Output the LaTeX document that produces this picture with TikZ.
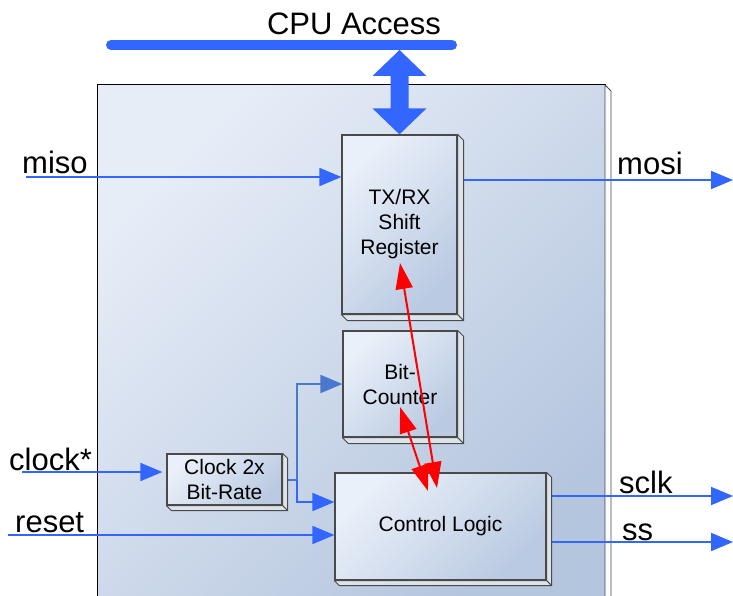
\documentclass[tikz,border=0pt]{standalone}
\usepackage{fontspec}
\setmainfont{Liberation Sans}
\usetikzlibrary{arrows.meta,calc}
\pgfdeclarelayer{bg}
\pgfdeclarelayer{conn}
\pgfsetlayers{bg,conn,main}
\definecolor{brightblue}{HTML}{3366FF}
\definecolor{steelblue}{HTML}{4A78CC}
\definecolor{boxlight}{HTML}{EAF0F9}
\definecolor{boxdark}{HTML}{BACAE2}
\definecolor{biglight}{HTML}{E7EDF7}
\definecolor{bigdark}{HTML}{B4C5DE}
\definecolor{boxborder}{HTML}{4A4A4A}
\definecolor{sidecol}{HTML}{DDE3EB}
\definecolor{redline}{HTML}{FF0000}
\tikzset{
  blockbox/.style={draw=boxborder, line width=1.2pt, top color=boxlight, bottom color=boxdark,
    shading angle=45, inner sep=0pt, align=center, font=\fontsize{21}{25}\selectfont},
  sideface/.style={fill=sidecol, draw=boxborder, line width=0.9pt, line join=round},
  outlabel/.style={font=\fontsize{31}{36}\selectfont, inner sep=0pt, anchor=base west},
  bluearrow/.style={draw=brightblue, line width=1.8pt, -{Triangle[length=22pt,width=18pt]}},
  steelarrow/.style={draw=steelblue, line width=1.8pt, -{Triangle[length=22pt,width=18pt]}},
  redarrow/.style={draw=redline, line width=2pt, {Triangle[length=26pt,width=17pt]}-{Triangle[length=26pt,width=17pt]}}
}
\newcommand{\sidefaces}[2]{%
  \filldraw[sideface] (#1.north east) -- ++(#2,#2) -- ($(#1.south east)+(#2,#2)$) -- (#1.south east) -- cycle;
  \filldraw[sideface] (#1.south west) -- ++(#2,#2) -- ($(#1.south east)+(#2,#2)$) -- (#1.south east) -- cycle;
}
\begin{document}
\begin{tikzpicture}[x=1pt,y=-1pt]
\useasboundingbox (0,0) rectangle (733,596);
\clip (0,0) rectangle (733,596);

% main enclosure
\begin{pgfonlayer}{bg}
  \fill[white] (0,0) rectangle (733,596);
  \shade[top color=biglight, bottom color=bigdark, shading angle=45, draw=black, line width=1pt]
    (97,85) rectangle (605,610);
  \filldraw[sideface, fill=white!85!sidecol] (605,85) -- (611,91) -- (611,610) -- (605,610) -- cycle;
\end{pgfonlayer}

% CPU bus
\draw[brightblue, line width=10pt, line cap=round] (111,45) -- (452,45);
\node[font=\fontsize{31}{36}\selectfont, inner sep=0pt, anchor=base] (cpu) at (354,35) {CPU Access};
\coordinate (busA) at (399.5,50);

% blocks
\node[blockbox, minimum width=115pt, minimum height=179pt] (tx) at (399.5,224.5)
  {\raisebox{-6pt}{\parbox{115pt}{\centering TX/RX\\Shift\\Register}}};
\sidefaces{tx}{6}
\node[blockbox, minimum width=114pt, minimum height=106pt] (bc) at (400,384) {Bit-\\Counter};
\sidefaces{bc}{6}
\node[blockbox, minimum width=115pt, minimum height=51pt] (clk) at (224.5,479.5) {Clock 2x\\Bit-Rate};
\sidefaces{clk}{5}
\node[blockbox, minimum width=211pt, minimum height=107pt] (ctrl) at (440.5,526.5) {Control Logic};
\sidefaces{ctrl}{5}

% CPU access double arrow
\fill[brightblue] (busA) -- ++(27,26) -- ++(-18,0) -- ($(tx.north)+(9,-26)$) -- ++(18,0)
  -- (tx.north) -- ($(tx.north)+(-27,-26)$) -- ++(18,0) -- ($(busA)+(-9,26)$) -- ++(-18,0) -- cycle;

% labels
\node[outlabel] (lmiso) at (22,174) {miso};
\node[outlabel] (lmosi) at (617,175) {mosi};
\node[outlabel] (lclk) at (9,470) {clock*};
\node[outlabel] (lrst) at (15,532) {reset};
\node[outlabel] (lsclk) at (619,493) {sclk};
\node[outlabel] (lss) at (622,540) {ss};

% connector endpoints
\coordinate (misoS) at (26,177);
\coordinate (mosiE) at (733,180);
\coordinate (clkS) at (22,472);
\coordinate (rstS) at (8,535);
\coordinate (sclkE) at (733,496);
\coordinate (ssE) at (733,542);
\coordinate (j) at (297,480);
\coordinate (j2) at (297,502);

\begin{pgfonlayer}{conn}
  \draw[bluearrow] (misoS) -- (misoS -| tx.west);
  \draw[bluearrow] (misoS -| tx.east) ++(0,3) -- (mosiE);
  \draw[bluearrow, shorten >=4pt] (clkS) -- (clkS -| clk.west);
  \draw[bluearrow] (rstS) -- (rstS -| ctrl.west);
  \draw[bluearrow] (sclkE -| ctrl.east) -- (sclkE);
  \draw[bluearrow] (ssE -| ctrl.east) -- (ssE);
  \draw[steelblue, line width=1.8pt] (clk.east |- j) -- (j);
  \draw[steelarrow] (j) |- (bc.west);
  \draw[bluearrow] (j) -- (j2) -- (j2 -| ctrl.west);
\end{pgfonlayer}

% red handshakes
\coordinate (r1a) at (400,263);
\coordinate (r1b) at (437,488);
\coordinate (r2a) at (400,407);
\coordinate (r2b) at (428,491);
\draw[redarrow] (r1a) -- (r1b);
\draw[redarrow] (r2a) -- (r2b);
\end{tikzpicture}
\end{document}
